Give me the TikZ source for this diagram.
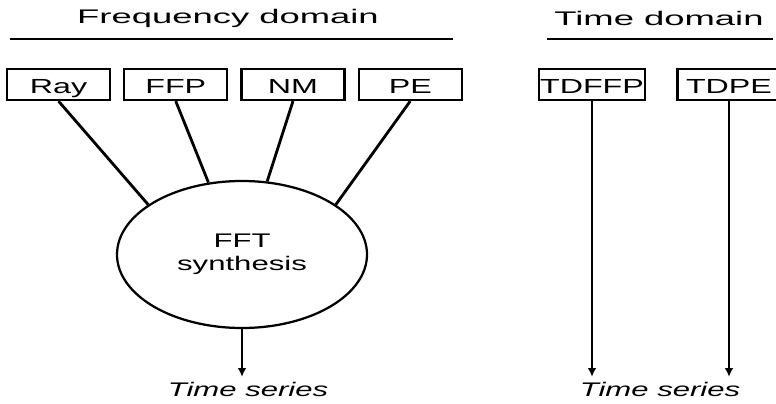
\documentclass[tikz,border=0pt]{standalone}
\usepackage{fontspec}
\usepackage{tikz}
\usetikzlibrary{arrows.meta,positioning,shapes.geometric}
\newfontfamily\headsf[FakeStretch=1.85]{Liberation Sans}
\newfontfamily\boxsf[FakeStretch=1.58]{Liberation Sans}

\begin{document}
\begin{tikzpicture}[
  box/.style={draw, line width=1.6pt, minimum width=2.575cm, minimum height=0.775cm, inner sep=1pt, text height=0.47cm, text depth=0pt, font=\boxsf\fontsize{14.5}{15}\selectfont},
  synth/.style={draw, ellipse, line width=1.6pt, minimum width=6.25cm, minimum height=3.675cm, inner sep=0pt, align=center, font=\boxsf\fontsize{14}{16}\selectfont},
  head/.style={font=\headsf\fontsize{14}{15}\selectfont},
  rule/.style={line width=1.6pt},
  link/.style={line width=2pt},
  arrow/.style={-{Latex[length=2.2mm, width=2.2mm]}, line width=1.8pt},
  label/.style={font=\boxsf\itshape\fontsize{14}{15}\selectfont},
  node distance=0.3cm
]
\useasboundingbox (0,0) rectangle (19.4,10.075);

% headings
\node[head] (freq) at (5.7, 9.625) {Frequency domain};
\node[head] (time) at (16.475, 9.625) {Time domain};
\draw[rule] (0.25, 9.1) coordinate (fl) -- (11.325, 9.1) coordinate (fr);
\draw[rule] (13.675, 9.1) coordinate (tl) -- (19.325, 9.1) coordinate (tr);

% frequency-domain models
\node[box] (ray) at (1.4625, 7.9625) {Ray};
\node[box, right=of ray] (ffp) {FFP};
\node[box, right=of ffp] (nm) {NM};
\node[box, right=of nm] (pe) {PE};

% time-domain models
\node[box] (tdffp) at (14.8, 7.9625) {TDFFP};
\node[box] (tdpe) at (18.225, 7.9625) {TDPE};

\node[synth] (fft) at (6.05, 3.7125) {FFT\\synthesis};

\node[label] (ts1) at (6.2, 0.35) {Time series};
\node[label] (ts2) at (16.5, 0.35) {Time series};

\draw[link] (ray.south) -- (fft.152);
\draw[link] (ffp.south) -- (fft.115);
\draw[link] (nm.south) -- (fft.71);
\draw[link] (pe.south) -- (fft.28);

\draw[arrow] (fft.south) -- (fft.south |- ts1.north);
\draw[arrow] (tdffp.south) -- (tdffp.south |- ts2.north);
\draw[arrow] (tdpe.south) -- (tdpe.south |- ts2.north);

\end{tikzpicture}
\end{document}
